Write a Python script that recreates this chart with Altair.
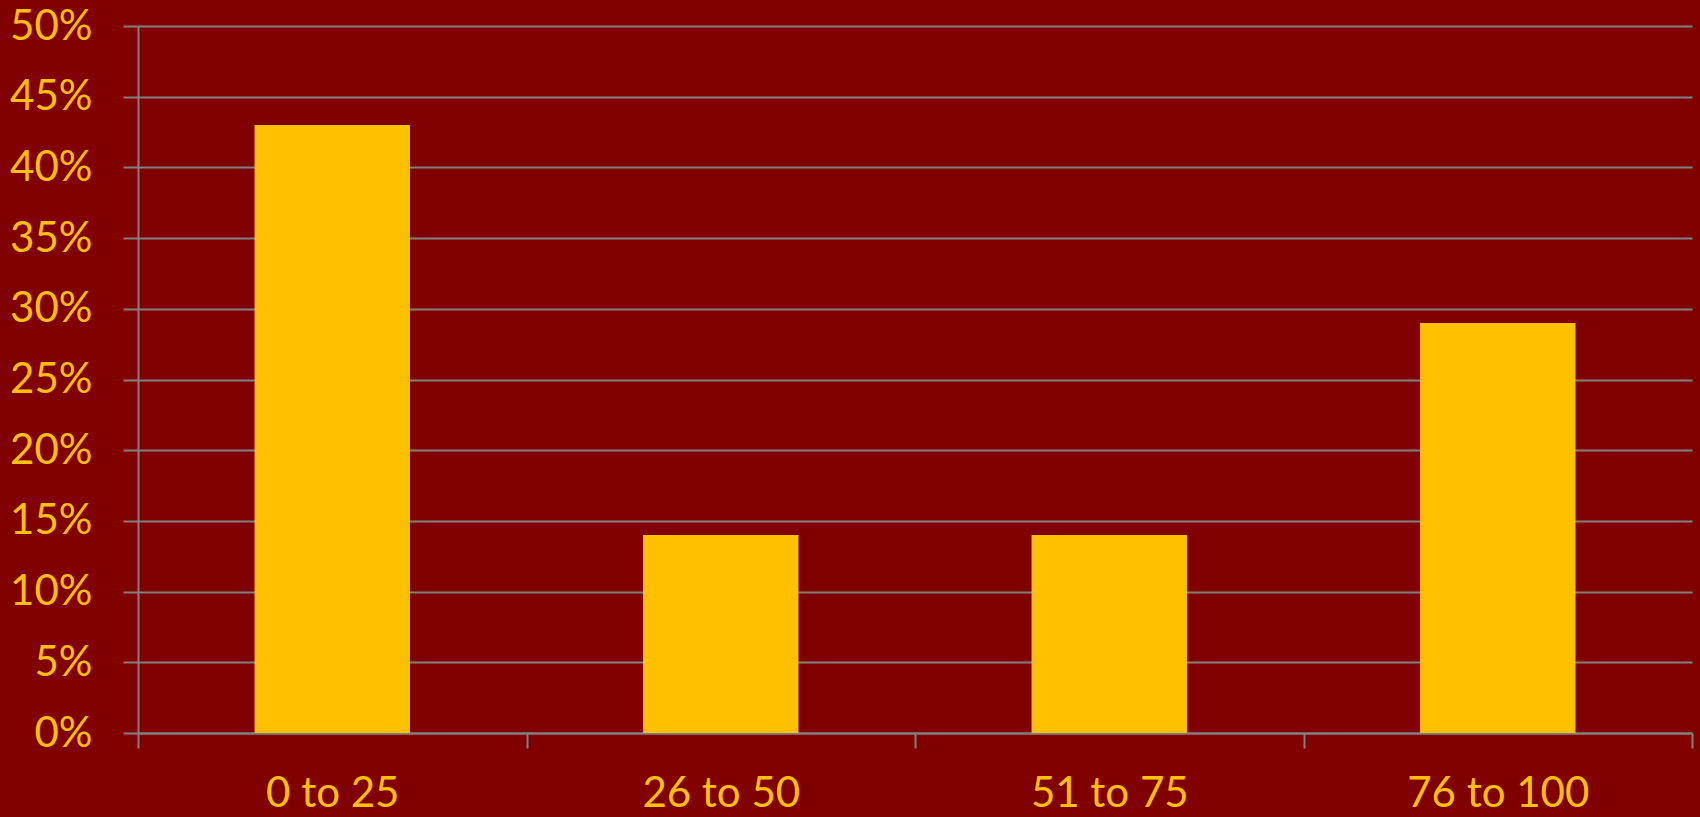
import altair as alt
import pandas as pd

categories = ["0 to 25", "26 to 50", "51 to 75", "76 to 100"]
values = [0.43, 0.14, 0.14, 0.29]
y_ticks = [0, 0.05, 0.10, 0.15, 0.20, 0.25, 0.30, 0.35, 0.40, 0.45, 0.50]

df = pd.DataFrame({"cat": categories, "val": values})

GOLD = "#FFC000"
GRID = "#808080"
BG = "#800000"
FONT = "Lato"

chart = alt.Chart(df).mark_bar(color=GOLD, width=alt.RelativeBandSize(0.4)).encode(
    x=alt.X("cat:N", sort=categories, title=None,
            scale=alt.Scale(paddingInner=0, paddingOuter=0),
            axis=alt.Axis(labelAngle=0, tickBand="extent", tickSize=15, tickWidth=2,
                          tickColor=GRID, domainColor=GRID, domainWidth=2,
                          labelColor=GOLD, labelFont=FONT, labelFontSize=42,
                          labelPadding=25, labelLimit=0, grid=False)),
    y=alt.Y("val:Q", title=None,
            scale=alt.Scale(domain=[0, 0.5], nice=False),
            axis=alt.Axis(values=y_ticks, format=".0%", tickSize=15, tickWidth=2,
                          tickColor=GRID, domainColor=GRID, domainWidth=2,
                          gridColor=GRID, gridWidth=2, grid=True,
                          labelColor=GOLD, labelFont=FONT, labelFontSize=42,
                          labelPadding=31, labelLimit=0)),
).properties(
    width=1554, height=707,
    autosize=alt.AutoSizeParams(type="none"),
    padding={"left": 138, "top": 26, "right": 8, "bottom": 84},
).configure(background=BG).configure_view(stroke=None)

chart.save("out.html", embed_options={"renderer": "svg", "actions": False})
